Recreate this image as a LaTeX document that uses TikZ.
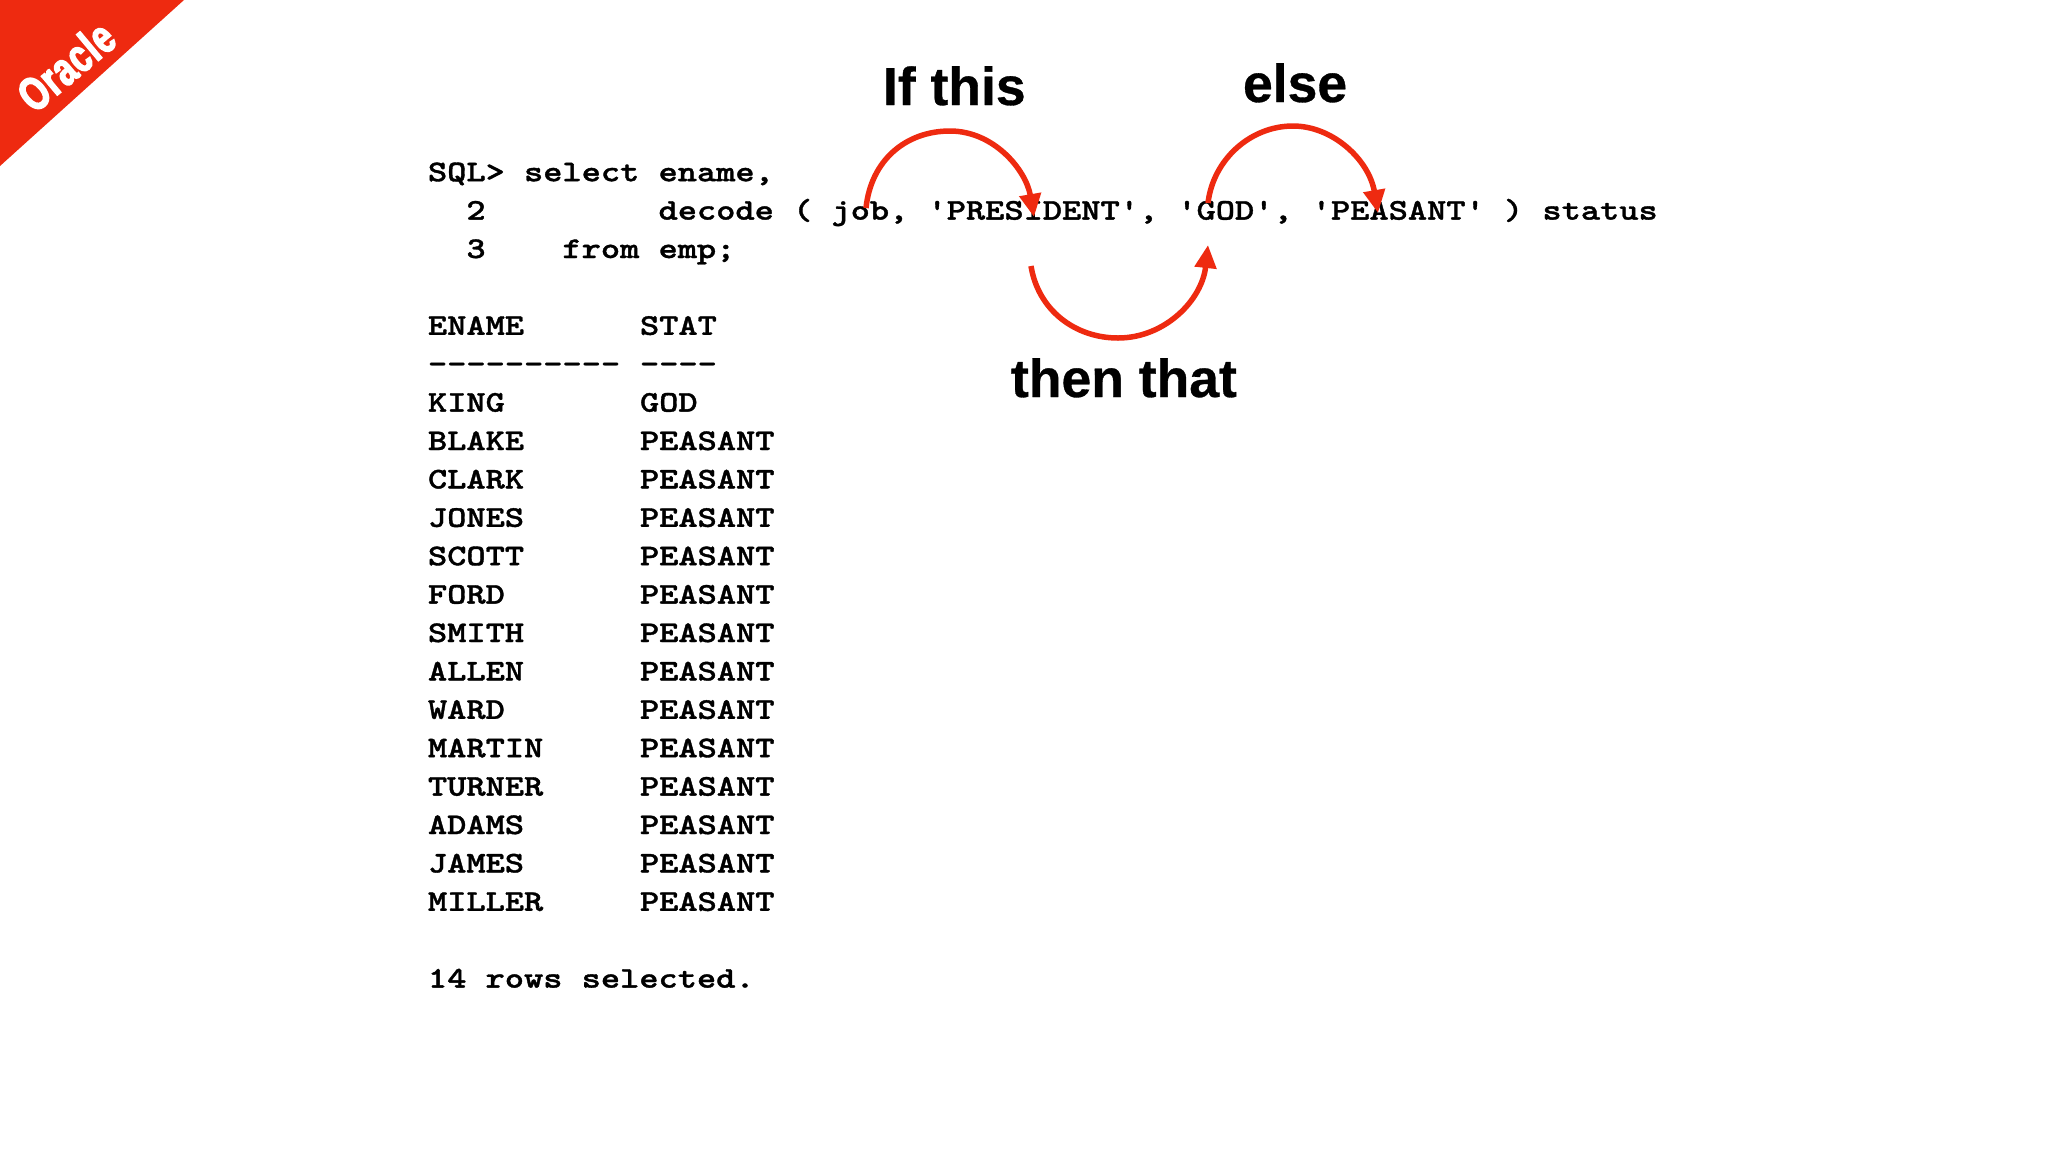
\documentclass[tikz,border=0pt]{standalone}
\usepackage{fontspec}
\usetikzlibrary{arrows.meta}
\setmainfont{Liberation Sans}
\newfontfamily\codefont{lmmonolt10-bold}[Extension=.otf,FakeStretch=1.22,FakeBold=1.2]
\newfontfamily\labelfont{Liberation Sans Bold}[FakeBold=0.6]
\newfontfamily\bannerfont{Liberation Sans Bold}[FakeStretch=0.72,FakeBold=3,LetterSpace=2]
\definecolor{accent}{HTML}{EE2A10}
\tikzset{
  code/.style={anchor=base west,inner sep=0pt,outer sep=0pt,font=\codefont\fontsize{30}{30}\selectfont},
  bigtext/.style={anchor=base west,inner sep=0pt,outer sep=0pt,font=\labelfont\fontsize{53.5}{53.5}\selectfont,text=black},
  arc/.style={draw=accent,line width=5.5pt,-{Triangle[width=21pt,length=23pt]}},
}
\begin{document}
\begin{tikzpicture}[x=1pt,y=-1pt]
\useasboundingbox (0,0) rectangle (2048,1152);
\fill[white] (0,0) rectangle (2048,1152);
\fill[accent] (0,0) -- (184,0) -- (0,166) -- cycle;
\node[rotate=40,inner sep=0pt,text=white,font=\bannerfont\fontsize{47}{47}\selectfont] (banner) at (66,66) {Oracle};

\node[code] (l1) at (428,181.2) {SQL> select ename,};
\node[code] (l2) at (428,219.6) {\ \ 2\ \ \ \ \ \ \ \ \ decode ( job, 'PRESIDENT', 'GOD', 'PEASANT' ) status};
\node[code] (l3) at (428,258) {\ \ 3\ \ \ \ from emp;};
\node[code] (hn) at (428,334.8) {ENAME};
\node[code] (hs) at (640,334.8) {STAT};
\node[code] (dn) at (428,373.2) {----------};
\node[code] (ds) at (640,373.2) {----};
\foreach \nm/\st [count=\i from 6] in {KING/GOD,BLAKE/PEASANT,CLARK/PEASANT,JONES/PEASANT,SCOTT/PEASANT,FORD/PEASANT,SMITH/PEASANT,ALLEN/PEASANT,WARD/PEASANT,MARTIN/PEASANT,TURNER/PEASANT,ADAMS/PEASANT,JAMES/PEASANT,MILLER/PEASANT}{
  \node[code] (n\i) at (428,181.2+\i*38.4) {\nm};
  \node[code] (s\i) at (640,181.2+\i*38.4) {\st};
}
\node[code] (foot) at (428,987.6) {14 rows selected.};

\node[bigtext] (ifthis) at (883,105) {If this};
\node[bigtext] (else) at (1243,102) {else};
\node[bigtext] (then) at (1011,397) {then that};

\coordinate (a0) at (866,208);
\coordinate (a1) at (950,131);
\coordinate (a2) at (1034,217);
\draw[arc] (a0) .. controls (871,160) and (906,131) .. (a1) .. controls (994,131) and (1026,170) .. (a2);
\coordinate (b0) at (1031,266);
\coordinate (b1) at (1118,338);
\coordinate (b2) at (1208,245);
\draw[arc] (b0) .. controls (1038,310) and (1075,338) .. (b1) .. controls (1165,338) and (1202,300) .. (b2);
\coordinate (c0) at (1208,203);
\coordinate (c1) at (1293,126);
\coordinate (c2) at (1378,213);
\draw[arc] (c0) .. controls (1213,160) and (1250,126) .. (c1) .. controls (1333,126) and (1369,160) .. (c2);
\end{tikzpicture}
\end{document}
